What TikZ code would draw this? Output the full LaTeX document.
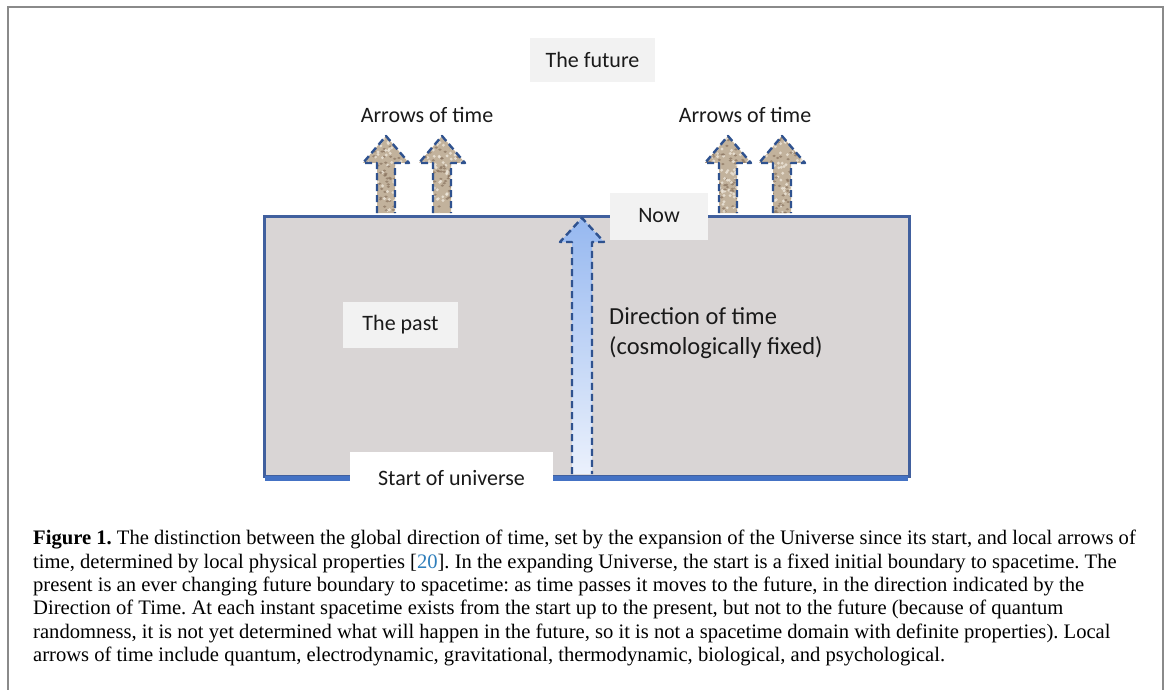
\documentclass[tikz,border=0pt]{standalone}
\usepackage{fontspec}
\setmainfont{Liberation Serif}
\newfontfamily\calibri{Carlito}
\definecolor{frame}{HTML}{8A8A8A}
\definecolor{boxfill}{HTML}{D9D5D5}
\definecolor{boxline}{HTML}{41609E}
\definecolor{baseblue}{HTML}{4472C4}
\definecolor{labelfill}{HTML}{F2F2F2}
\definecolor{dashblue}{HTML}{2F528F}
\definecolor{granite}{HTML}{C2B29C}
\definecolor{graniteD}{HTML}{8A7460}
\definecolor{graniteL}{HTML}{EDE6DA}
\definecolor{txt}{HTML}{1A1A1A}
\definecolor{linkblue}{HTML}{2E7EBB}
\begin{document}
\begin{tikzpicture}[x=1pt,y=-1pt,
  lbl/.style={fill=labelfill, text=txt, font=\calibri\fontsize{22}{26}\selectfont, inner sep=0pt},
  plain/.style={text=txt, font=\calibri\fontsize{22}{26}\selectfont, inner sep=0pt},
  arrowline/.style={draw=dashblue, line width=2.4pt, dash pattern=on 7pt off 4pt, line join=round}]
\useasboundingbox (0,0) rectangle (1170,690);
\fill[white] (0,0) rectangle (1170,690);
% outer frame
\draw[frame, line width=2pt] (8,690) -- (8,7) -- (1163,7) -- (1163,690);
% spacetime box
\node[draw=boxline, fill=boxfill, line width=3pt, minimum width=645pt, minimum height=260pt, inner sep=0pt, anchor=north west] (box) at (262.5,214.5) {};
\draw[baseblue, line width=4.5pt] (265,478.5) -- (908,478.5);
% central arrow
\coordinate (ctip) at (582,218);
\coordinate (cbase) at (582,474);
\shade[top color={rgb,255:red,150;green,184;blue,240}, bottom color={rgb,255:red,235;green,241;blue,252}]
  (ctip) -- (604,242) -- (592,242) -- (592,474) -- (572,474) -- (572,242) -- (560,242) -- cycle;
\draw[arrowline] (572,474) -- (572,242) -- (560,242) -- (ctip) -- (604,242) -- (592,242) -- (592,474);
% small arrows
\pgfmathsetseed{7}
\foreach \cx/\nm in {386/a1,442/a2,728/a3,782/a4}{
  \begin{scope}
    \clip (\cx,136) -- (\cx+23,163) -- (\cx+9,163) -- (\cx+9,213) -- (\cx-9,213) -- (\cx-9,163) -- (\cx-23,163) -- cycle;
    \fill[granite] (\cx-25,130) rectangle (\cx+25,215);
    \foreach \i in {1,...,90}{
      \fill[graniteD, opacity=0.7] ({\cx+rand*22},{175+rand*40}) ellipse (1.8 and 1.2);
      \fill[graniteL, opacity=0.8] ({\cx+rand*22},{175+rand*40}) circle (1.6);
    }
  \end{scope}
  \draw[arrowline] (\cx-9,213) -- (\cx-9,163) -- (\cx-23,163) -- (\cx,136) -- (\cx+23,163) -- (\cx+9,163) -- (\cx+9,213);
  \coordinate (\nm) at (\cx,136);
}
% labels
\node[lbl, minimum width=125pt, minimum height=44pt] (future) at (592.5,60) {The future};
\node[plain] (aot1) at (427,115) {Arrows of time};
\node[plain] (aot2) at (745,115) {Arrows of time};
\node[lbl, minimum width=98pt, minimum height=47pt] (now) at (659,216) {Now};
\node[lbl, minimum width=115pt, minimum height=46pt] (past) at (400.5,325) {The past};
\node[plain, align=left, anchor=west, font=\calibri\fontsize{24.5}{30}\selectfont] (dir) at (609,333) {Direction of time\\(cosmologically fixed)};
\node[fill=white, inner sep=0pt, minimum width=203pt, minimum height=44pt, anchor=north west] (startbg) at (350,452) {};
\node[plain] (start) at (451.5,478) {Start of universe};
% caption
\node[anchor=north west, align=left, inner sep=0pt, text=black, font=\fontsize{20.6}{23.4}\selectfont\frenchspacing] (caption) at (33,530) {%
\textbf{Figure 1.} The distinction between the global direction of time, set by the expansion of the Universe since its start, and local arrows of\\
time, determined by local physical properties [\textcolor{linkblue}{20}]. In the expanding Universe, the start is a fixed initial boundary to spacetime. The\\
present is an ever changing future boundary to spacetime: as time passes it moves to the future, in the direction indicated by the\\
Direction of Time. At each instant spacetime exists from the start up to the present, but not to the future (because of quantum\\
randomness, it is not yet determined what will happen in the future, so it is not a spacetime domain with definite properties). Local\\
arrows of time include quantum, electrodynamic, gravitational, thermodynamic, biological, and psychological.};
\end{tikzpicture}
\end{document}
